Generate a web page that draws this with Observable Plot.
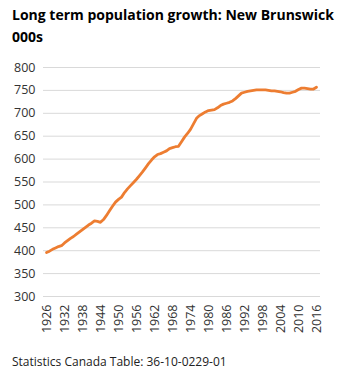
<!DOCTYPE html>
<html>
<head>
<meta charset="utf-8">
<script src="https://cdn.jsdelivr.net/npm/d3@7"></script>
<script src="https://cdn.jsdelivr.net/npm/@observablehq/plot@0.6"></script>
<style>
  html, body { margin: 0; padding: 0; background: #fff; }
  #wrap { position: relative; width: 350px; height: 376px; overflow: hidden; font-family: "Open Sans", sans-serif; }
  #title { position: absolute; left: 12px; top: 4px; font-weight: 700; font-size: 14px; line-height: 22px; color: #000; white-space: nowrap; }
  #chart { position: absolute; left: 0; top: 55px; }
  #caption { position: absolute; left: 12px; top: 353px; font-size: 12px; color: #222; white-space: nowrap; }
</style>
</head>
<body>
<div id="wrap">
  <div id="title">Long term population growth: New Brunswick<br>000s</div>
  <div id="chart"></div>
  <div id="caption">Statistics Canada Table: 36-10-0229-01</div>
</div>
<script>
const years = d3.range(1926, 2017);
const population = [
  396, 399, 403, 406, 409, 411, 417, 422, 427, 431,
  436, 441, 446, 451, 456, 460, 465, 464, 462, 468,
  477, 487, 497, 506, 512, 517, 527, 535, 542, 549,
  556, 564, 572, 581, 590, 598, 605, 610, 612, 615,
  618, 623, 625, 627, 628, 638, 648, 656, 665, 677,
  689, 695, 699, 703, 706, 707, 708, 712, 717, 720,
  722, 724, 727, 732, 738, 744, 746, 748, 749, 750,
  751, 751, 751, 751, 750, 749, 749, 748, 747, 745,
  744, 744, 746, 748, 752, 755, 755, 754, 753, 753,
  757
];
const xTicks = [1926, 1932, 1938, 1944, 1950, 1956, 1962, 1968, 1974, 1980, 1986, 1992, 1998, 2004, 2010, 2016];
const yTicks = [300, 350, 400, 450, 500, 550, 600, 650, 700, 750, 800];

const data = years.map((y, i) => ({year: y, value: population[i]}));

const chart = Plot.plot({
  width: 350,
  height: 290,
  marginTop: 12,
  marginBottom: 49,
  marginLeft: 43,
  marginRight: 30,
  style: {fontFamily: "Open Sans, sans-serif", fontSize: "12.5px", color: "#333", background: "#fff"},
  x: {domain: [1925, 2017.33], ticks: xTicks, tickFormat: d => String(d), tickRotate: -90, tickSize: 0, tickPadding: 8, label: null},
  y: {domain: [300, 800], ticks: yTicks, tickSize: 0, tickPadding: 8, label: null},
  marks: [
    Plot.ruleY(yTicks, {stroke: "#d9d9d9", strokeWidth: 1}),
    Plot.line(data, {x: "year", y: "value", stroke: "#ED7D31", strokeWidth: 2.8, curve: "linear"}),
    Plot.axisX({ticks: xTicks, tickFormat: d => String(d), tickRotate: -90, tickSize: 0, tickPadding: 8, label: null, fontSize: 12.5}),
    Plot.axisY({ticks: yTicks, tickSize: 0, tickPadding: 8, label: null, fontSize: 12.5})
  ]
});
document.getElementById("chart").appendChild(chart);
</script>
</body>
</html>
